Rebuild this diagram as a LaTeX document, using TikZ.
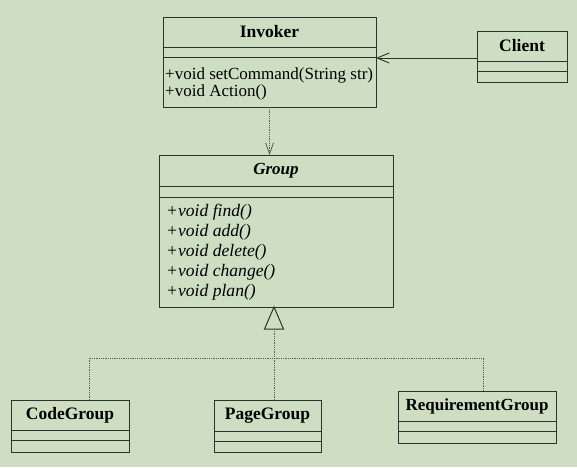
\documentclass[tikz,border=0pt]{standalone}
\usepackage{fontspec}
\setmainfont{Liberation Serif}
\usetikzlibrary{arrows.meta}
\definecolor{bgreen}{RGB}{205,222,195}
\definecolor{umlline}{RGB}{45,50,45}
\definecolor{dotline}{RGB}{90,95,90}
\begin{document}
\begin{tikzpicture}[x=1pt,y=-1pt,
		classbox/.style={draw=umlline,line width=1pt,inner sep=0pt,outer sep=0pt},
		classline/.style={draw=umlline,line width=1pt},
		classtitle/.style={inner sep=0pt,font=\fontsize{17.5}{20}\selectfont\bfseries},
		method/.style={inner sep=0pt,anchor=base west,font=\fontsize{17}{20}\selectfont},
		assoc/.style={draw=umlline,line width=0.9pt,-{Straight Barb[length=12pt,width=10pt]}},
		depend/.style={draw=dotline,line width=0.8pt,densely dotted,-{Straight Barb[length=11pt,width=8pt]}},
		realize/.style={draw=dotline,line width=0.8pt,densely dotted}]
			\fill[bgreen] (0,0) rectangle (577,467);
			\useasboundingbox (0,0) rectangle (577,467);
			% classes
			\node[classbox,minimum width=213pt,minimum height=90pt] (invoker) at (269.5,62) {};
			\node[classbox,minimum width=90pt,minimum height=51pt] (client) at (522,56.5) {};
			\node[classbox,minimum width=234pt,minimum height=152pt] (group) at (276,231) {};
			\node[classbox,minimum width=118pt,minimum height=52pt] (code) at (70,426) {};
			\node[classbox,minimum width=107pt,minimum height=52pt] (page) at (267.5,426) {};
			\node[classbox,minimum width=158pt,minimum height=52pt] (req) at (477,417) {};
			\foreach \c/\a/\b in {invoker/30/40,client/30/40,group/31/42,code/30/40,page/31/41,req/30/40}
			{
				\draw[classline] ([yshift=-\a pt]\c.north west) -- ([yshift=-\a pt]\c.north east);
				\draw[classline] ([yshift=-\b pt]\c.north west) -- ([yshift=-\b pt]\c.north east);
			}
			\node[classtitle] (invokername) at ([yshift=-15pt]invoker.north) {Invoker};
			\node[classtitle] (clientname) at ([yshift=-15pt]client.north) {Client};
			\node[classtitle,font=\fontsize{17}{20}\selectfont\bfseries\itshape] (groupname) at ([yshift=-15.5pt]group.north) {Group};
			\node[classtitle] (codename) at ([yshift=-15pt]code.north) {CodeGroup};
			\node[classtitle] (pagename) at ([yshift=-15.5pt]page.north) {PageGroup};
			\node[classtitle,font=\fontsize{17}{20}\selectfont\bfseries] (reqname) at ([yshift=-15pt]req.north) {RequirementGroup};
			% methods
			\node[method] (setcmd) at ([xshift=2pt,yshift=-62pt]invoker.north west) {+void setCommand(String str)};
			\node[method] (action) at ([xshift=2pt,yshift=-79pt]invoker.north west) {+void Action()};
			\foreach \m [count=\i] in {find,add,delete,change,plan}
				\node[method,font=\fontsize{17.6}{20}\selectfont\itshape] (m\i) at ([xshift=7pt,yshift={-41.7pt-20pt*\i}]group.north west) {+void \m()};
			% connectors
			\coordinate (cl) at ([yshift=-1.5pt]client.west);
			\draw[assoc] (cl) -- (cl -| invoker.east);
			\draw[depend] (invoker.south) -- (invoker.south |- group.north);
			\coordinate (tip) at ([xshift=-2pt]group.south);
			\coordinate (base) at ([yshift=-22pt]tip);
			\coordinate (bus) at ([yshift=-51pt]tip);
			\coordinate (codetop) at ([xshift=19pt]code.north);
			\coordinate (reqtop) at ([xshift=6pt]req.north);
			\draw[realize] (base) -- (base |- page.north);
			\draw[realize] (codetop) |- (bus) -| (reqtop);
			\draw[classline,line join=miter] (tip) -- ++(-9.5,22) -- ++(19,0) -- cycle;
		\end{tikzpicture}
\end{document}
